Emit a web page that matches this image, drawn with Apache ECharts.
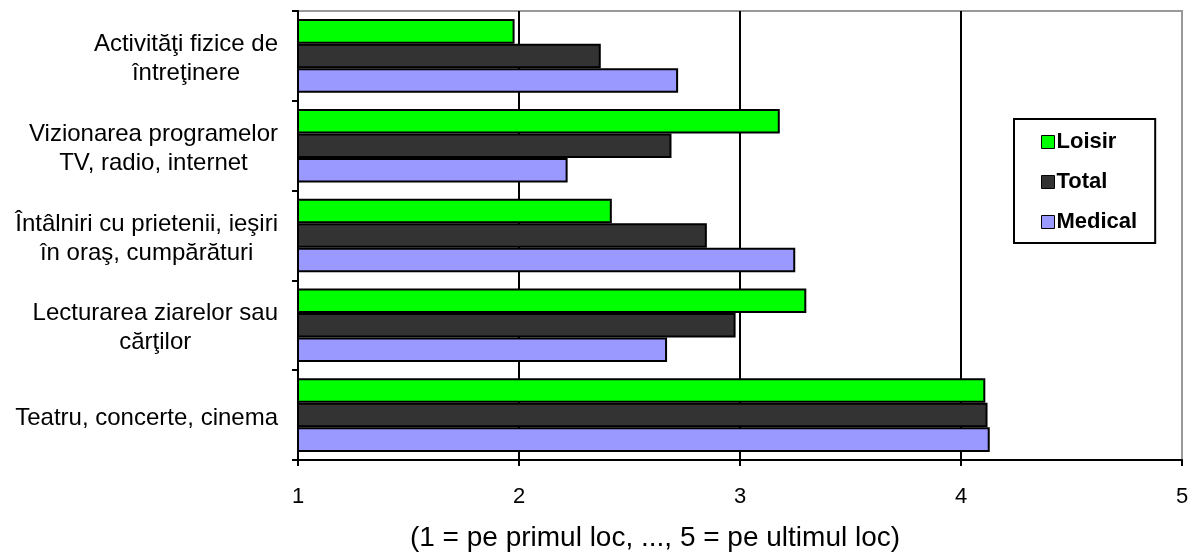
<!DOCTYPE html>
<html>
<head>
<meta charset="utf-8">
<script src="https://cdn.jsdelivr.net/npm/echarts@6/dist/echarts.min.js"></script>
<style>
  html, body { margin: 0; padding: 0; background: #fff; }
  #chart { width: 1200px; height: 553px; }
</style>
</head>
<body>
<div id="chart"></div>
<script>
// Activities, listed bottom-up along the category axis
const categories = [
  'Teatru, concerte, cinema',
  'Lecturarea ziarelor sau\ncărţilor',
  'Întâlniri cu prietenii, ieşiri\nîn oraş, cumpărături',
  'Vizionarea programelor\nTV, radio, internet',
  'Activităţi fizice de\nîntreţinere'
];

// Mean rank per group (1 = first place ... 5 = last place)
const loisir  = [4.11, 3.30, 2.42, 3.18, 1.98];
const total   = [4.12, 2.98, 2.85, 2.69, 2.37];
const medical = [4.13, 2.67, 3.25, 2.22, 2.72];

const seriesNames = ['Loisir', 'Total', 'Medical'];
const rankTicks = [1, 2, 3, 4, 5];
const axisTitle = '(1 = pe primul loc, ..., 5 = pe ultimul loc)';

const FONT = '"Liberation Sans", Arial, sans-serif';

const chart = echarts.init(document.getElementById('chart'), null, { renderer: 'canvas' });

function barSeries(name, data, color) {
  return {
    name: name,
    type: 'bar',
    data: data,
    barGap: '0%',
    barCategoryGap: '18%',
    itemStyle: { color: color, borderColor: '#000', borderWidth: 2 },
    emphasis: { disabled: true }
  };
}

chart.setOption({
  animation: false,
  backgroundColor: '#fff',
  grid: {
    left: 298, right: 18, top: 11, bottom: 93,
    outerBoundsMode: 'none',
    containLabel: false,
    show: true, borderColor: '#999', borderWidth: 2, backgroundColor: 'transparent'
  },
  legend: {
    orient: 'vertical',
    left: 1014, top: 119,
    data: seriesNames,
    icon: 'rect',
    itemWidth: 13, itemHeight: 13, itemGap: 18,
    padding: [12, 18, 10, 27],
    borderColor: '#000', borderWidth: 2,
    itemStyle: { borderColor: '#000', borderWidth: 1 },
    textStyle: { fontFamily: FONT, fontWeight: 'bold', fontSize: 22, color: '#000', padding: [0, 0, 0, -3] }
  },
  xAxis: {
    type: 'value',
    min: rankTicks[0], max: rankTicks[rankTicks.length - 1], interval: 1,
    name: axisTitle,
    nameLocation: 'middle',
    nameGap: 64,
    nameTextStyle: { fontFamily: FONT, fontSize: 28, color: '#000', padding: [0, 170, 0, 0] },
    axisLine: { show: true, lineStyle: { color: '#000', width: 2 } },
    axisTick: { show: true, length: 6, lineStyle: { color: '#000', width: 2 } },
    axisLabel: { fontFamily: FONT, fontSize: 22, color: '#000', margin: 26 },
    splitLine: { show: true, lineStyle: { color: ['#000', '#000', '#000', '#000', '#999'], width: 2 } }
  },
  yAxis: {
    type: 'category',
    data: categories,
    axisLine: { show: true, lineStyle: { color: '#000', width: 2 } },
    axisTick: { show: true, length: 6, lineStyle: { color: '#000', width: 2 } },
    axisLabel: {
      margin: 20,
      align: 'right',
      formatter: function (v) {
        return v.split('\n').map(function (l) { return '{c|' + l + '}'; }).join('\n');
      },
      rich: {
        c: { align: 'center', fontFamily: FONT, fontSize: 24, color: '#000', lineHeight: 29, padding: [6, 0, 0, 0] }
      }
    },
    splitLine: { show: false }
  },
  series: [
    barSeries(seriesNames[0], loisir, '#00ff00'),
    barSeries(seriesNames[1], total, '#333333'),
    barSeries(seriesNames[2], medical, '#9999ff')
  ]
});
</script>
</body>
</html>
